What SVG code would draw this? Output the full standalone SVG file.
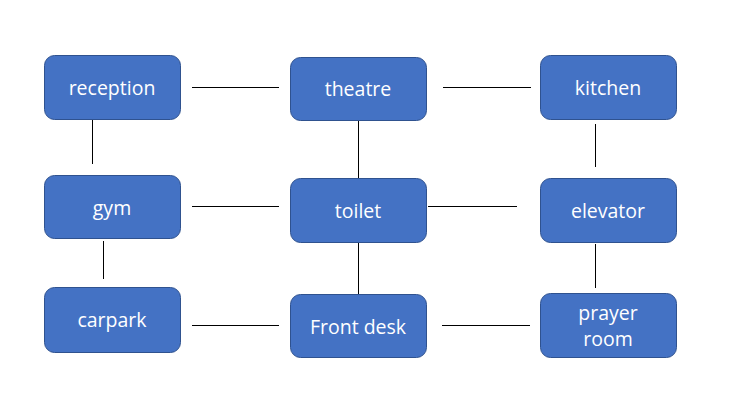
<svg xmlns="http://www.w3.org/2000/svg" width="731" height="413" viewBox="0 0 731 413">
<style>
.n{fill:#4472C4;stroke:#2F528F;stroke-width:1}
.t{fill:#fff;font-family:"Open Sans","Liberation Sans",sans-serif;font-size:19.5px;text-anchor:middle;dominant-baseline:central}
.c line{stroke:#000;stroke-width:1}
</style>
<rect width="731" height="413" fill="#fff"/>
<g class="c" id="connectors">
<line x1="192" y1="87.5" x2="279" y2="87.5"/>
<line x1="443" y1="87.5" x2="531" y2="87.5"/>
<line x1="92.5" y1="120" x2="92.5" y2="164"/>
<line x1="358.5" y1="120" x2="358.5" y2="178"/>
<line x1="595.5" y1="124" x2="595.5" y2="167"/>
<line x1="192" y1="206.5" x2="279" y2="206.5"/>
<line x1="428" y1="206.5" x2="517" y2="206.5"/>
<line x1="103.5" y1="241" x2="103.5" y2="279"/>
<line x1="358.5" y1="242" x2="358.5" y2="294"/>
<line x1="595.5" y1="244" x2="595.5" y2="288"/>
<line x1="192" y1="325.5" x2="279" y2="325.5"/>
<line x1="442" y1="325.5" x2="530" y2="325.5"/>
</g>
<g id="reception"><rect class="n" x="44.5" y="55.5" width="136" height="64" rx="10"/><text class="t" x="112" y="87">reception</text></g>
<g id="theatre"><rect class="n" x="290.5" y="57.5" width="136" height="63" rx="10"/><text class="t" x="358" y="88">theatre</text></g>
<g id="kitchen"><rect class="n" x="540.5" y="55.5" width="136" height="64" rx="10"/><text class="t" x="608" y="87">kitchen</text></g>
<g id="gym"><rect class="n" x="44.5" y="175.5" width="136" height="63" rx="10"/><text class="t" x="112" y="207">gym</text></g>
<g id="toilet"><rect class="n" x="290.5" y="178.5" width="136" height="64" rx="10"/><text class="t" x="358" y="210">toilet</text></g>
<g id="elevator"><rect class="n" x="540.5" y="178.5" width="136" height="64" rx="10"/><text class="t" x="608" y="210">elevator</text></g>
<g id="carpark"><rect class="n" x="44.5" y="287.5" width="136" height="65" rx="10"/><text class="t" x="112" y="319">carpark</text></g>
<g id="frontdesk"><rect class="n" x="290.5" y="294.5" width="136" height="63" rx="10"/><text class="t" x="358" y="326">Front desk</text></g>
<g id="prayerroom"><rect class="n" x="540.5" y="293.5" width="136" height="64" rx="10"/><text class="t" x="608" y="312">prayer</text><text class="t" x="608" y="338">room</text></g>
</svg>
